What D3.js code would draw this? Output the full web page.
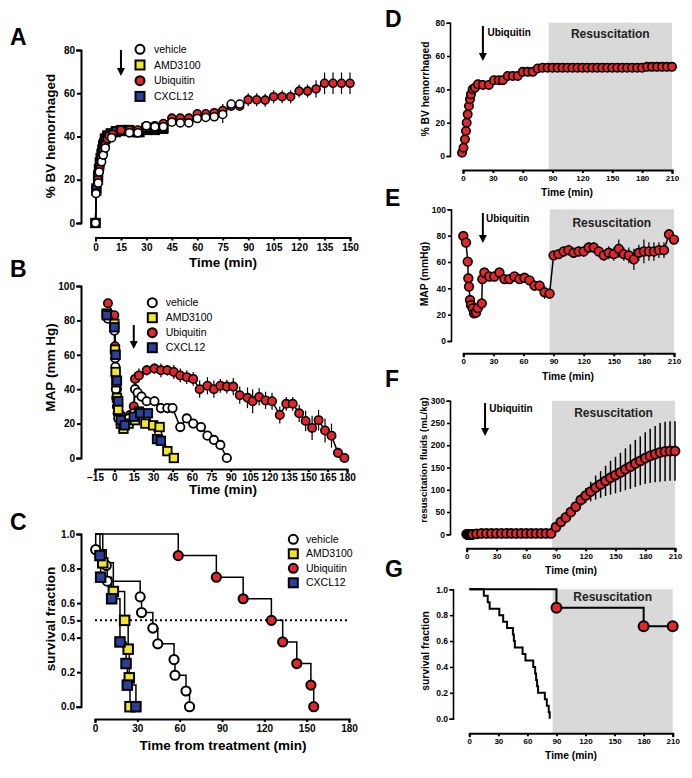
<!DOCTYPE html>
<html><head><meta charset="utf-8">
<script src="https://cdn.jsdelivr.net/npm/d3@7"></script>
<style>
body{margin:0;background:#fff;}
svg text{font-family:"Liberation Sans",Arial,Helvetica,sans-serif;fill:#000;}
</style></head><body>
<script>
// ---------------- DATA ----------------
const seriesNames = ["vehicle","AMD3100","Ubiquitin","CXCL12"];
// Panel A: % BV hemorrhaged  [time(min), value, sem]
const A_vehicle = [[0,0],[0.3,13.6],[1.6,18.5],[2.2,23.6],[3.6,28.3],[4.6,31.4],[5.8,34.7],[9.5,39.4],[20,41.7],[25,41.7],[30,45],[35,44.5],[40,44.5],[45,46.6],[50,46.3],[55,46.3],[60,48.3],[65,48.8],[70,49.1],[75,50.2,4],[80,55],[85,55]];
const A_amd = [[0,0],[0.5,15],[1.5,20],[2,25],[3,30],[4,34],[5,37],[6,39],[7,40],[9,41],[12,42],[15,42.5],[18,43],[22,42],[26,42],[30,43],[35,43],[40,43.5]];
const A_ubiq = [[0,0],[0.5,14],[1.5,20],[2.5,25],[3.5,30],[4.5,33],[5.5,36],[7,39],[8,40.5],[10,41],[15,43],[20,43],[25,43],[30,45],[35,45],[40,46],[45,48.5,2],[50,48.5,2],[55,48.5,2],[60,50.5,2],[65,50.5,2],[70,51,2],[75,52,3],[80,54,2],[85,54,2],[90,57,3],[95,57,3],[100,56.8,3],[105,58.4,3],[110,58.4,3],[115,58.4,3],[120,61,3],[125,61,3],[130,62,4],[135,64.6,5],[140,64.6,5],[145,64.6,5],[150,64.6,5]];
const A_cxcl = [[0,0],[0.5,16],[1.5,22],[2.5,28],[3.5,32],[4.5,36],[5.5,39],[7,40.5],[9,41.5],[12,42.5],[15,43],[20,43],[25,42],[30,44],[35,44],[40,44]];
const A_xticks = [0,15,30,45,60,75,90,105,120,135,150];
const A_yticks = [0,20,40,60,80];

// Panel B: MAP (mm Hg)
const B_vehicle = [[-5,81],[0,74],[0.3,62],[0.6,58],[0.8,53],[1,48],[1.2,40],[1.5,35],[2,30],[2.5,26],[3,23],[7,22],[11,23],[15,26],[16,40,5],[18,38],[21,35.7],[25,33],[31,33,3],[36,29,3],[41,29,3],[45,29,3],[51,18],[56,23],[61,20],[67,18],[72,13],[77,10.5],[82,7.6],[87,0]];
const B_amd = [[-6,84],[0,78],[0.5,63],[1,50],[1.5,44],[2,35],[3,28],[5,20],[7,17],[11,20],[16,22],[19,27],[24,20],[30,19],[35,18],[41,4],[46,0]];
const B_ubiq = [[-5,90],[0,83],[0.5,65],[1,50],[2,40],[3,32],[5,25],[8,22],[12,25],[15,30],[16,46,4],[19,48,4],[25,51,3],[31,52,3],[36,51,4],[41,51,3],[46,50,4],[51,48,4],[56,47,4],[61,46,4],[66,40,5],[72,42,5],[77,40,5],[82,42,4],[87,41.5,4],[92,41.5,5],[97,36.5,5],[103,35,6],[107,33,7],[112,35.5,5],[117,33.5,5],[122,33,5],[128,25,5],[133,31.5,4],[138,31.5,4],[143,26,5],[148,21.5,6],[153,17.5,7],[158,22,6],[163,16,7],[168,13,7],[173,3,3],[178,0]];
const B_cxcl = [[-6,83],[0,76],[1,60],[2,45],[3,33],[5,22],[8,19],[15,24],[20,26],[26,26],[33,11],[36,10]];
const B_xticks = [-15,0,15,30,45,60,75,90,105,120,135,150,165,180];
const B_yticks = [0,20,40,60,80,100];

// Panel C: survival (Kaplan-Meier events: [time from treatment, survival after event])
const C_vehicle = [[0.5,0.909],[8,0.818],[8.7,0.727],[32,0.636],[33,0.545],[41,0.455],[44.5,0.364],[56,0.273],[56.7,0.182],[64.5,0.091],[67,0]];
const C_amd = [[5.5,0.833],[13,0.667],[21,0.5],[23.5,0.333],[24.3,0.167],[24.8,0]];
const C_ubiq = [[59,0.875],[86,0.75],[105,0.625],[125,0.5],[133,0.375],[143,0.25],[153,0.125],[155,0]];
const C_cxcl = [[3.5,0.875],[4,0.75],[11.8,0.625],[17.7,0.375],[22,0.25],[22.9,0.125],[29,0]];
const C_xticks = [0,30,60,90,120,150,180];
const C_yticks = [0,0.2,0.4,0.5,0.6,0.8,1.0];

// Panel D: % BV hemorrhaged, Ubiquitin + resuscitation
const D_ubiq = [[-1,2],[0.5,5],[2,10],[3,15],[3.7,20],[4.7,25],[6,30],[7,34],[8,37],[9.7,40],[12,41],[15,43],[20,42.6],[26,42.6],[31,45.5],[36,45.5],[40,45.5],[45,48],[50,48],[55,48],[60,50.5],[65,50.5],[70,50.5],[75,52.5],[80,53],[85,53],[90,53],[95,53],[100,53],[105,53],[110,53],[115,53],[120,53],[125,53],[130,53],[135,53],[140,53],[145,53],[150,53],[155,53],[160,53],[165,53],[170,53],[175,53],[180,53],[185,53.5],[190,53.5],[195,53.5],[200,53.5],[205,53.5],[210,53.5]];
const D_yticks = [0,20,40,60,80];

// Panel E: MAP (mmHg)
const E_ubiq = [[0,79.7],[2.7,74.7],[4.4,60.3],[5,47.6],[5.7,41.3],[6.7,31.1],[7.7,27.3],[9.4,24.8],[10.7,21],[12.7,21.5],[14.5,25],[18.4,28.6],[19,47,3],[21,52],[26,49,3],[31,49,3],[36,52,3],[41,47,3],[46,47,3],[51,49,3],[56,47,3],[61,48,3],[66,46,3],[71,42,4],[76,42,4],[81,37,5],[86,36,4],[90,65,3],[95,66,3],[100,68,4],[105,69,4],[110,67,3],[115,68,4],[120,68,4],[125,71,4],[130,71,4],[135,68,4],[140,65,4],[145,67,5],[150,66,5],[155,70,7],[160,66,5],[165,65,6],[170,62,8],[175,67,6],[180,68,9],[185,68,7],[190,68,7],[195,69,6],[200,69,6],[205,81,3],[210,77,3]];
const E_yticks = [0,20,40,60,80,100];

// Panel F: resuscitation fluids (mL/kg)
const F_ubiq = [[0,0],[0.5,0],[1,0],[1.5,0],[2,0],[2.5,0],[3,0],[3.5,0],[4,0],[4.5,0],[5,0],[5.5,0],[6,0],[10,1],[15,2],[20,2],[25,2],[30,2],[35,2],[40,2],[45,2],[50,2],[55,2],[60,2],[65,2],[70,2],[75,2],[80,2],[85,2],[90,16,3],[95,28,5],[100,38,6],[105,50,8],[110,62,10],[115,77,13],[120,87,17],[125,96,22],[130,105,27],[135,112,30],[140,120,34],[145,127,38],[150,133,41],[155,139,44],[160,146,47],[165,152,50],[170,159,53],[175,165,55],[180,171,58],[185,176,61],[190,180,63],[195,184,66],[200,186,67],[205,187,67],[210,187,67]];
const F_yticks = [0,50,100,150,200,250,300];

// Panel G: survival fraction
const G_ubiq = [[90,0.857],[180,0.714]];
const G_ubiqEnd = 210;
const G_historic = [[15,0.95],[19,0.90],[21,0.85],[31,0.80],[35,0.75],[39,0.70],[45,0.65],[46,0.60],[47,0.55],[55,0.50],[58,0.45],[66,0.40],[68,0.35],[69,0.30],[70,0.25],[71,0.20],[78,0.15],[80,0.10],[82,0.05],[83,0.00]];
const G_yticks = [0,0.2,0.4,0.6,0.8,1.0];
const R_xticks = [0,30,60,90,120,150,180,210];
const resusStart = 86, resusEnd = 210;

// ---------------- STYLE ----------------
const RED="#e3262b", YEL="#f3e52a", BLUE="#2b3f9c", WHITE="#ffffff", SHADE="#d9d9d9";
const W=692, H=778;
const svg = d3.select("body").append("svg").attr("width",W).attr("height",H);

function styleAxis(a, fs, sw){
  a.attr("font-family",null).attr("font-size",null);
  a.select(".domain").attr("stroke","#000").attr("stroke-width",sw).attr("stroke-linecap","square");
  a.selectAll(".tick line").attr("stroke","#000").attr("stroke-width",sw);
  a.selectAll(".tick text").attr("font-size",fs).attr("font-weight","bold").style("fill","#000");
}
function yAxis(y, xPos, ticks, fmt, fs, sw, tl){
  const a = svg.append("g").attr("transform",`translate(${xPos},0)`)
    .call(d3.axisLeft(y).tickValues(ticks).tickFormat(fmt).tickSizeOuter(0).tickSize(tl).tickPadding(2));
  styleAxis(a, fs, sw);
}
function xAxis(x, yPos, ticks, fs, sw, tl, pad){
  const a = svg.append("g").attr("transform",`translate(0,${yPos})`)
    .call(d3.axisBottom(x).tickValues(ticks).tickFormat(d3.format("d")).tickSizeOuter(0).tickSize(tl).tickPadding(pad));
  styleAxis(a, fs, sw);
}
function ytitle(txt, cx, cy, fs){
  svg.append("text").attr("transform",`translate(${cx},${cy}) rotate(-90)`).attr("text-anchor","middle")
    .attr("dy","0.35em").attr("font-size",fs).attr("font-weight","bold").text(txt);
}
function xtitle(txt, cx, by, fs){
  svg.append("text").attr("x",cx).attr("y",by).attr("text-anchor","middle").attr("font-size",fs).attr("font-weight","bold").text(txt);
}
function letter(t, x, y){
  svg.append("text").attr("x",x).attr("y",y).attr("font-size",23).attr("font-weight","bold").text(t);
}
function lineS(data,x,y,w){
  svg.append("path").attr("d",d3.line().x(d=>x(d[0])).y(d=>y(d[1]))(data)).attr("fill","none").attr("stroke","#000").attr("stroke-width",w);
}
function errS(data,x,y,w){
  svg.append("g").selectAll("line").data(data.filter(d=>d[2])).join("line")
    .attr("x1",d=>x(d[0])).attr("x2",d=>x(d[0])).attr("y1",d=>y(d[1]-d[2])).attr("y2",d=>y(d[1]+d[2]))
    .attr("stroke","#000").attr("stroke-width",w);
}
function circS(data,x,y,r,fill,sw){
  svg.append("g").selectAll("circle").data(data).join("circle")
    .attr("cx",d=>x(d[0])).attr("cy",d=>y(d[1])).attr("r",r).attr("fill",fill).attr("stroke","#000").attr("stroke-width",sw);
}
function sqS(data,x,y,s,fill,sw){
  svg.append("g").selectAll("rect").data(data).join("rect")
    .attr("x",d=>x(d[0])-s/2).attr("y",d=>y(d[1])-s/2).attr("width",s).attr("height",s).attr("fill",fill).attr("stroke","#000").attr("stroke-width",sw);
}
function legend(x0, y0, dy, tx, fs, r, s){
  const fills=[WHITE,YEL,RED,BLUE], shapes=["c","s","c","s"];
  seriesNames.forEach((n,i)=>{
    const yy=y0+i*dy;
    if(shapes[i]==="c") svg.append("circle").attr("cx",x0).attr("cy",yy).attr("r",r).attr("fill",fills[i]).attr("stroke","#000").attr("stroke-width",2);
    else svg.append("rect").attr("x",x0-s/2).attr("y",yy-s/2).attr("width",s).attr("height",s).attr("fill",fills[i]).attr("stroke","#000").attr("stroke-width",2);
    svg.append("text").attr("x",tx).attr("y",yy).attr("dy","0.35em").attr("font-size",fs).text(n);
  });
}
function arrow(xp, y1, y2){
  svg.append("line").attr("x1",xp).attr("x2",xp).attr("y1",y1).attr("y2",y2-6).attr("stroke","#000").attr("stroke-width",2);
  svg.append("path").attr("d",`M${xp-4},${y2-8}L${xp+4},${y2-8}L${xp},${y2}Z`).attr("fill","#000");
}
function kmPts(events, endT){
  const pts=[[0,1]]; let s=1;
  events.forEach(([t,v])=>{pts.push([t,s]); pts.push([t,v]); s=v;});
  if(endT!==undefined) pts.push([endT,s]);
  return pts;
}
function shade(x,y,top,bottom){
  svg.append("rect").attr("x",x(resusStart)).attr("y",top).attr("width",x(resusEnd)-x(resusStart)).attr("height",bottom-top).attr("fill",SHADE);
}

// ---------------- PANEL A ----------------
{
  const x=d3.scaleLinear().domain([0,150]).range([95.5,350]);
  const y=d3.scaleLinear().domain([0,80]).range([223,50]);
  [A_amd,A_cxcl,A_ubiq,A_vehicle].forEach(d=>lineS(d,x,y,1.5));
  errS(A_ubiq,x,y,1.2); errS(A_vehicle,x,y,1.2);
  sqS(A_amd,x,y,8,YEL,2.2); sqS(A_cxcl,x,y,8,BLUE,2.2);
  circS(A_ubiq,x,y,4,RED,1.6); circS(A_vehicle,x,y,4,WHITE,1.6);
  yAxis(y,81,A_yticks,d3.format("d"),10,2,4);
  xAxis(x,237.5,A_xticks,10,2,3,3);
  ytitle("% BV hemorrhaged",50,136,13.5);
  xtitle("Time (min)",223,266.5,13.5);
  arrow(x(15),50,76);
  legend(140,49.3,15.7,154,10.5,4.5,9);
  letter("A",10,45);
}
// ---------------- PANEL B ----------------
{
  const x=d3.scaleLinear().domain([-15,180]).range([95,347]);
  const y=d3.scaleLinear().domain([0,100]).range([458,286]);
  [B_ubiq,B_vehicle,B_amd,B_cxcl].forEach(d=>lineS(d,x,y,1.5));
  errS(B_ubiq,x,y,1.2); errS(B_vehicle,x,y,1.2);
  circS(B_ubiq,x,y,4.2,RED,1.6);
  circS(B_vehicle,x,y,4.2,WHITE,1.8);
  sqS(B_amd,x,y,8.5,YEL,1.8); sqS(B_cxcl,x,y,8.5,BLUE,1.8);
  yAxis(y,81,B_yticks,d3.format("d"),10,2,4);
  xAxis(x,469,B_xticks,10,2,3,2);
  ytitle("MAP (mm Hg)",50,367.5,13.5);
  xtitle("Time (min)",223,494,13.5);
  arrow(x(15),325,349);
  legend(152.3,302.7,15,165.7,10.5,4.5,9);
  letter("B",10,277);
}
// ---------------- PANEL C ----------------
{
  const x=d3.scaleLinear().domain([0,180]).range([95,349]);
  const y=d3.scaleLinear().domain([0,1]).range([706.7,534]);
  svg.append("line").attr("x1",x(0)).attr("x2",x(180)).attr("y1",y(0.5)).attr("y2",y(0.5))
    .attr("stroke","#000").attr("stroke-width",2).attr("stroke-dasharray","2,3");
  [C_vehicle,C_amd,C_cxcl,C_ubiq].forEach(d=>lineS(kmPts(d),x,y,1.5));
  circS(C_vehicle,x,y,4.6,WHITE,2);
  sqS(C_amd,x,y,9.5,YEL,2); sqS(C_cxcl,x,y,9.5,BLUE,2);
  circS(C_ubiq,x,y,4.6,RED,2);
  yAxis(y,81,C_yticks,d3.format(".1f"),10,2,4);
  xAxis(x,719,C_xticks,10,2,3,3);
  ytitle("survival fraction",50,619,13.5);
  xtitle("Time from treatment (min)",223,750,13.5);
  legend(293.3,539.3,14.5,306,10.5,4.5,9);
  letter("C",10,530);
}
// ---------------- PANEL D ----------------
{
  const x=d3.scaleLinear().domain([0,210]).range([463,672]);
  const y=d3.scaleLinear().domain([0,80]).range([156,22.7]);
  shade(x,y,22.7,170);
  lineS(D_ubiq,x,y,1.5);
  circS(D_ubiq,x,y,4.2,RED,1.6);
  yAxis(y,450,D_yticks,d3.format("d"),8.5,1.6,3);
  xAxis(x,170,R_xticks,8,2,3,2);
  ytitle("% BV hemorrhaged",425,89,10.3);
  xtitle("Time (min)",567,196,10.3);
  arrow(x(20),26,61);
  svg.append("text").attr("x",487.5).attr("y",32.8).attr("dy","0.35em").attr("font-size",10).attr("font-weight","bold").text("Ubiquitin");
  svg.append("text").attr("x",(x(resusStart)+x(resusEnd))/2).attr("y",34).attr("dy","0.35em").attr("text-anchor","middle").attr("font-size",12).attr("font-weight","bold").style("fill","#222").text("Resuscitation");
  letter("D",385,27);
}
// ---------------- PANEL E ----------------
{
  const x=d3.scaleLinear().domain([0,210]).range([463.3,674]);
  const y=d3.scaleLinear().domain([0,100]).range([341,209.3]);
  shade(x,y,209.3,353);
  lineS(E_ubiq,x,y,1.5);
  errS(E_ubiq,x,y,1.2);
  circS(E_ubiq,x,y,4.4,RED,1.6);
  yAxis(y,451,E_yticks,d3.format("d"),8.5,1.6,3);
  xAxis(x,353.3,R_xticks,8,2,3,2);
  ytitle("MAP (mmHg)",424,274,10.3);
  xtitle("Time (min)",568,379.5,10.3);
  arrow(x(19.5),213,243);
  svg.append("text").attr("x",486).attr("y",218).attr("dy","0.35em").attr("font-size",10).attr("font-weight","bold").text("Ubiquitin");
  svg.append("text").attr("x",(x(resusStart)+x(resusEnd))/2).attr("y",222.7).attr("dy","0.35em").attr("text-anchor","middle").attr("font-size",12).attr("font-weight","bold").style("fill","#222").text("Resuscitation");
  letter("E",385,206);
}
// ---------------- PANEL F ----------------
{
  const x=d3.scaleLinear().domain([0,210]).range([466.7,675]);
  const y=d3.scaleLinear().domain([0,300]).range([534.3,400.7]);
  shade(x,y,400.7,548);
  lineS(F_ubiq,x,y,1.5);
  errS(F_ubiq,x,y,1.5);
  circS(F_ubiq,x,y,4.5,RED,1.8);
  yAxis(y,450,F_yticks,d3.format("d"),8.5,1.6,3);
  xAxis(x,548.3,R_xticks,8,2,3,2);
  ytitle("resuscitation fluids (mL/kg)",424,460,9.6);
  xtitle("Time (min)",571,574,10.3);
  arrow(x(18.5),403,436);
  svg.append("text").attr("x",489.3).attr("y",408).attr("dy","0.35em").attr("font-size",10).attr("font-weight","bold").text("Ubiquitin");
  svg.append("text").attr("x",(x(resusStart)+x(resusEnd))/2).attr("y",412.3).attr("dy","0.35em").attr("text-anchor","middle").attr("font-size",12).attr("font-weight","bold").style("fill","#222").text("Resuscitation");
  letter("F",385,387);
}
// ---------------- PANEL G ----------------
{
  const x=d3.scaleLinear().domain([0,210]).range([469.3,672.7]);
  const y=d3.scaleLinear().domain([0,1]).range([718.7,589.3]);
  shade(x,y,589.3,733);
  lineS(kmPts(G_historic),x,y,2);
  lineS(kmPts(G_ubiq,G_ubiqEnd),x,y,2);
  circS(G_ubiq.concat([[G_ubiqEnd,G_ubiq[G_ubiq.length-1][1]]]),x,y,5,RED,2);
  yAxis(y,453,G_yticks,d3.format(".1f"),8.5,1.6,3);
  xAxis(x,733.3,R_xticks,8,2,3,2);
  ytitle("survival fraction",425,651,10.3);
  xtitle("Time (min)",571,759,10.3);
  svg.append("text").attr("x",(x(resusStart)+x(resusEnd))/2).attr("y",596.7).attr("dy","0.35em").attr("text-anchor","middle").attr("font-size",12).attr("font-weight","bold").style("fill","#222").text("Resuscitation");
  letter("G",385,577);
}
</script>
</body></html>
